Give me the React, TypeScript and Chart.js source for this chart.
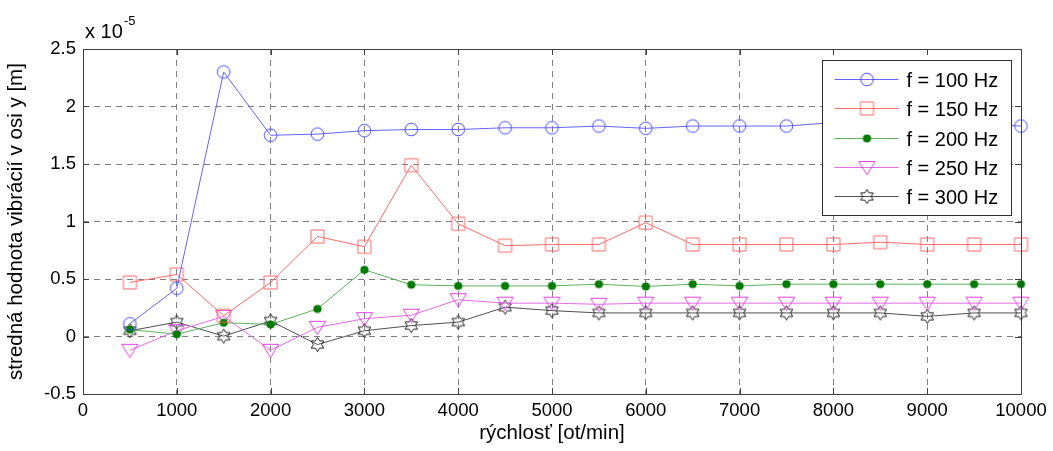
import React, { useEffect, useRef } from 'react';
import { Chart, registerables } from 'chart.js';

Chart.register(...registerables);

// ---------- data ----------
const speeds = [500, 1000, 1500, 2000, 2500, 3000, 3500, 4000, 4500, 5000, 5500, 6000, 6500, 7000, 7500, 8000, 8500, 9000, 9500, 10000];
const f100 = [0.11, 0.42, 2.30, 1.75, 1.76, 1.79, 1.80, 1.80, 1.815, 1.815, 1.83, 1.81, 1.83, 1.83, 1.83, 1.86, 1.85, 1.85, 1.85, 1.83];
const f150 = [0.47, 0.54, 0.18, 0.47, 0.87, 0.78, 1.49, 0.98, 0.79, 0.80, 0.80, 0.99, 0.80, 0.80, 0.80, 0.80, 0.82, 0.80, 0.80, 0.80];
const f200 = [0.06, 0.02, 0.12, 0.105, 0.24, 0.58, 0.45, 0.44, 0.44, 0.44, 0.455, 0.435, 0.455, 0.44, 0.455, 0.455, 0.455, 0.455, 0.455, 0.455];
const f250 = [-0.12, 0.05, 0.175, -0.12, 0.08, 0.155, 0.185, 0.32, 0.29, 0.29, 0.28, 0.29, 0.29, 0.29, 0.29, 0.29, 0.29, 0.29, 0.29, 0.29];
const f300 = [0.05, 0.125, 0.003, 0.135, -0.07, 0.05, 0.095, 0.125, 0.255, 0.225, 0.205, 0.205, 0.205, 0.205, 0.205, 0.205, 0.205, 0.175, 0.205, 0.205];

const seriesLabels = ['f = 100 Hz', 'f = 150 Hz', 'f = 200 Hz', 'f = 250 Hz', 'f = 300 Hz'];
const xTickValues = [0, 1000, 2000, 3000, 4000, 5000, 6000, 7000, 8000, 9000, 10000];
const yTickValues = [-0.5, 0, 0.5, 1, 1.5, 2, 2.5];
const xTitle = 'rýchlosť [ot/min]';
const yTitle = 'stredná hodnota vibrácií v osi y [m]';

const FONT = '"Liberation Sans", Arial, sans-serif';
const lineColors = ['#6464ff', '#ff6a6a', '#5fb05f', '#e46ce4', '#505050'];

// ---------- markers ----------
function makeMarker(kind: string, color: string): HTMLCanvasElement {
  const c = document.createElement('canvas');
  c.width = 21;
  c.height = 21;
  const g = c.getContext('2d')!;
  const cx = 10.5, cy = 10.5;
  g.lineWidth = 1;
  g.strokeStyle = color;
  g.fillStyle = color;
  g.beginPath();
  if (kind === 'circle') {
    g.arc(cx, cy, 6.3, 0, Math.PI * 2);
    g.stroke();
  } else if (kind === 'square') {
    g.rect(4, 4, 13, 13);
    g.stroke();
  } else if (kind === 'dot') {
    g.arc(cx, cy, 4.1, 0, Math.PI * 2);
    g.fill();
  } else if (kind === 'tri') {
    g.moveTo(cx - 8.2, cy - 6);
    g.lineTo(cx + 8.2, cy - 6);
    g.lineTo(cx, cy + 7.3);
    g.closePath();
    g.stroke();
  } else if (kind === 'hex') {
    const R = 7.2, r = 7.2 / Math.sqrt(3);
    for (let i = 0; i < 12; i++) {
      const a = -Math.PI / 2 + (i * Math.PI) / 6;
      const rad = i % 2 === 0 ? R : r;
      const px = cx + rad * Math.cos(a);
      const py = cy + rad * Math.sin(a);
      if (i === 0) g.moveTo(px, py); else g.lineTo(px, py);
    }
    g.closePath();
    g.stroke();
  }
  return c;
}

export default function App() {
  const ref = useRef<HTMLCanvasElement>(null);

  useEffect(() => {
    const canvas = ref.current!;
    const markers = [
      makeMarker('circle', '#4b4bff'),
      makeMarker('square', '#ff6a6a'),
      makeMarker('dot', '#007a00'),
      makeMarker('tri', '#e040e0'),
      makeMarker('hex', '#222222'),
    ];
    const allSeries = [f100, f150, f200, f250, f300];

    const datasets = allSeries.map((vals, i) => ({
      label: seriesLabels[i],
      data: speeds.map((s, k) => ({ x: s, y: vals[k] })),
      borderColor: lineColors[i],
      backgroundColor: lineColors[i],
      borderWidth: 1,
      pointStyle: markers[i] as any,
      pointRadius: 7,
      tension: 0,
      clip: false as any,
    }));

    const framePlugin = {
      id: 'frame',
      afterDatasetsDraw(chart: any) {
        const { ctx, chartArea: a, scales } = chart;
        ctx.save();
        // inward ticks
        ctx.strokeStyle = '#404040';
        ctx.lineWidth = 1;
        ctx.beginPath();
        xTickValues.forEach((v) => {
          const px = Math.round(scales.x.getPixelForValue(v)) + 0.5;
          ctx.moveTo(px, a.bottom);
          ctx.lineTo(px, a.bottom - 6);
          ctx.moveTo(px, a.top);
          ctx.lineTo(px, a.top + 6);
        });
        yTickValues.forEach((v) => {
          const py = Math.round(scales.y.getPixelForValue(v)) + 0.5;
          ctx.moveTo(a.left, py);
          ctx.lineTo(a.left + 6, py);
          ctx.moveTo(a.right, py);
          ctx.lineTo(a.right - 6, py);
        });
        ctx.stroke();
        // box
        ctx.strokeRect(Math.round(a.left) + 0.5, Math.round(a.top) + 0.5, Math.round(a.right - a.left), Math.round(a.bottom - a.top));

        // legend
        const lx = Math.round(a.right) - 199 + 0.5;
        const ly = Math.round(a.top) + 11 + 0.5;
        const lw = 189, lh = 155;
        ctx.fillStyle = '#ffffff';
        ctx.fillRect(lx, ly, lw, lh);
        ctx.strokeStyle = '#303030';
        ctx.strokeRect(lx, ly, lw, lh);
        ctx.font = '20px ' + FONT;
        ctx.textBaseline = 'alphabetic';
        ctx.textAlign = 'left';
        seriesLabels.forEach((lab, i) => {
          const y = Math.round(ly + 18.5 + i * 29.3) + 0.5;
          ctx.strokeStyle = lineColors[i];
          ctx.beginPath();
          ctx.moveTo(lx + 12, y);
          ctx.lineTo(lx + 76, y);
          ctx.stroke();
          const m = markers[i];
          ctx.drawImage(m, lx + 44.5 - m.width / 2, y - m.height / 2);
          ctx.fillStyle = '#000';
          ctx.fillText(lab, lx + 84, y + 7.2);
        });

        // exponent label
        ctx.fillStyle = '#000';
        ctx.font = '20px ' + FONT;
        ctx.fillText('x 10', a.left + 2, 38);
        ctx.font = '13px ' + FONT;
        ctx.fillText('-5', a.left + 41, 25);
        ctx.restore();
      },
    };

    const chart = new Chart(canvas, {
      type: 'line',
      data: { datasets: datasets as any },
      options: {
        animation: false,
        responsive: false,
        devicePixelRatio: 1,
        layout: { padding: { top: 49, right: 32, left: 0, bottom: 0 } },
        plugins: {
          legend: { display: false },
          tooltip: { enabled: false },
        },
        scales: {
          x: {
            type: 'linear',
            min: 0,
            max: 10000,
            afterFit: (s: any) => { s.height = 57; },
            afterBuildTicks: (s: any) => { s.ticks = xTickValues.map((v) => ({ value: v })); },
            ticks: {
              callback: (v: any) => String(v),
              color: '#000',
              font: { family: FONT, size: 18.5 },
              padding: 6,
              maxRotation: 0,
              autoSkip: false,
            },
            grid: {
              color: '#808080',
              lineWidth: 1,
              drawTicks: false,
            },
            border: { display: false, dash: [6, 5] },
            title: {
              display: true,
              text: xTitle,
              color: '#000',
              font: { family: FONT, size: 20.5 },
              padding: { top: 0, bottom: 5 },
            },
          },
          y: {
            type: 'linear',
            min: -0.5,
            max: 2.5,
            afterFit: (s: any) => { s.width = 83; },
            afterBuildTicks: (s: any) => { s.ticks = yTickValues.map((v) => ({ value: v })); },
            ticks: {
              callback: (v: any) => String(v),
              color: '#000',
              font: { family: FONT, size: 18.5 },
              padding: 7,
              autoSkip: false,
            },
            grid: {
              color: '#808080',
              lineWidth: 1,
              drawTicks: false,
            },
            border: { display: false, dash: [6, 5] },
            title: {
              display: true,
              text: yTitle,
              color: '#000',
              font: { family: FONT, size: 20.5 },
              padding: { top: 4, bottom: 0 },
            },
          },
        },
      },
      plugins: [framePlugin],
    });

    return () => chart.destroy();
  }, []);

  return (
    <div style={{ position: 'absolute', left: 0, top: 0, width: 1053, height: 451, background: '#fff' }}>
      <canvas ref={ref} width={1053} height={451} style={{ display: 'block' }} />
    </div>
  );
}
